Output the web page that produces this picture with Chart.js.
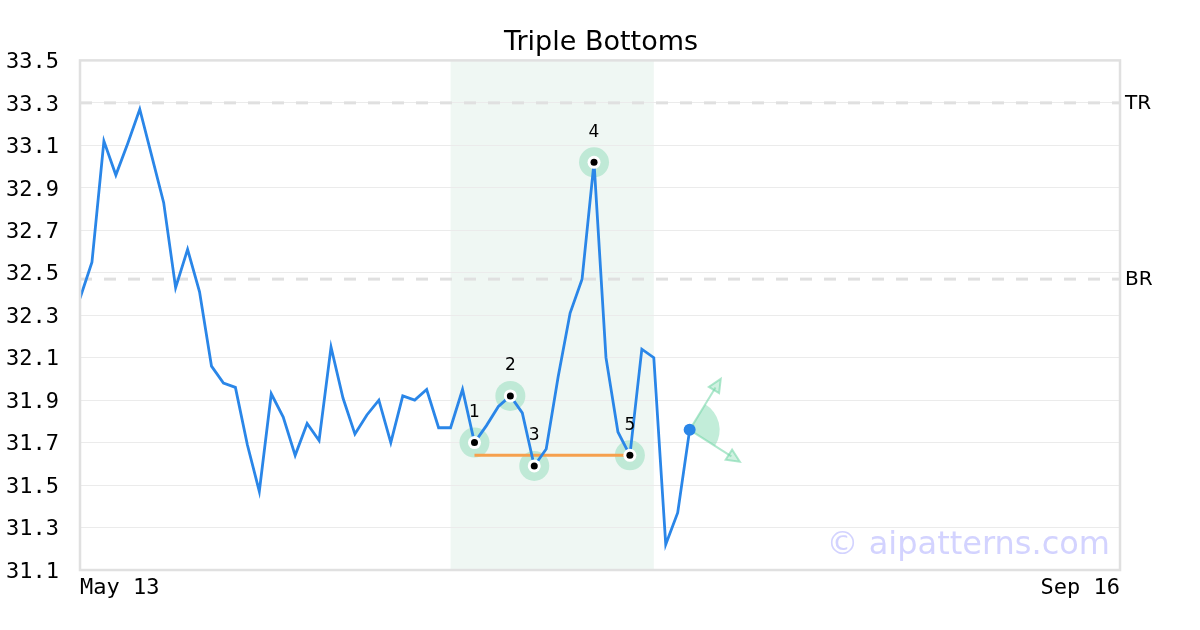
<!DOCTYPE html>
<html>
<head>
<meta charset="utf-8">
<script src="https://cdn.jsdelivr.net/npm/chart.js@4"></script>
<style>
  html, body { margin: 0; padding: 0; background: #fff; }
</style>
</head>
<body>
<canvas id="chart" width="1200" height="630"></canvas>
<script>
// closing prices, one per trading day from May 13
const prices = [
  32.38, 32.55, 33.12, 32.96, 33.11, 33.27, 33.05, 32.83, 32.43, 32.61,
  32.41, 32.06, 31.98, 31.96, 31.69, 31.47, 31.93, 31.82, 31.64, 31.79,
  31.71, 32.15, 31.91, 31.74, 31.83, 31.90, 31.70, 31.92, 31.90, 31.95,
  31.77, 31.77, 31.95, 31.70, 31.78, 31.87, 31.92, 31.84, 31.59, 31.67,
  32.01, 32.31, 32.47, 33.02, 32.10, 31.75, 31.64, 32.14, 32.10, 31.22,
  31.37, 31.76
];
const xTickIdx = [0, 87];
const xTickLabels = ['May 13', 'Sep 16'];
const yTicks = [31.1, 31.3, 31.5, 31.7, 31.9, 32.1, 32.3, 32.5, 32.7, 32.9, 33.1, 33.3, 33.5];

// pattern
const pivotIdx = [33, 36, 38, 43, 46];
const pivotNames = ['1', '2', '3', '4', '5'];
const supportIdx = [33, 46];
const supportLevel = 31.64;
const zoneIdx = [31, 48];
const levelValues = [33.3, 32.47];
const levelNames = ['TR', 'BR'];
// projection arrows from the last close: [x, y] in data units
const arrowTips = [[53.6, 32.0], [55.2, 31.61]];

const blue = '#2a86e8';
const green = 'rgba(120, 215, 170, 0.45)';

const series = prices.map((p, i) => ({ x: i, y: p }));
const pivots = pivotIdx.map(i => ({ x: i, y: prices[i] }));
const lastIdx = prices.length - 1;

const patternPlugin = {
  id: 'pattern',
  beforeDraw(chart) {
    const { ctx, chartArea: a, scales: { x } } = chart;
    ctx.save();
    ctx.fillStyle = '#eff7f3';
    const x0 = x.getPixelForValue(zoneIdx[0]);
    const x1 = x.getPixelForValue(zoneIdx[1]);
    ctx.fillRect(x0, a.top, x1 - x0, a.bottom - a.top);
    ctx.restore();
  },
  beforeDatasetsDraw(chart) {
    const { ctx, chartArea: a, scales: { x, y } } = chart;
    ctx.save();
    // TR / BR dashed levels
    ctx.strokeStyle = '#e0e0e0';
    ctx.lineWidth = 3;
    ctx.setLineDash([12, 12]);
    ctx.font = '20px "DejaVu Sans"';
    ctx.fillStyle = '#000';
    ctx.textBaseline = 'middle';
    levelValues.forEach((v, i) => {
      const py = y.getPixelForValue(v);
      ctx.beginPath();
      ctx.moveTo(a.left, py);
      ctx.lineTo(a.right, py);
      ctx.stroke();
      ctx.fillText(levelNames[i], a.right + 5, py + 1);
    });
    ctx.setLineDash([]);

    // projection arrows + wedge
    const ox = x.getPixelForValue(lastIdx);
    const oy = y.getPixelForValue(prices[lastIdx]);
    const angs = arrowTips.map(t => Math.atan2(y.getPixelForValue(t[1]) - oy, x.getPixelForValue(t[0]) - ox));
    ctx.fillStyle = green;
    ctx.beginPath();
    ctx.moveTo(ox, oy);
    ctx.arc(ox, oy, 30, angs[0], angs[1]);
    ctx.closePath();
    ctx.fill();
    ctx.strokeStyle = 'rgba(120, 215, 170, 0.6)';
    ctx.lineWidth = 2;
    arrowTips.forEach((t, i) => {
      const tx = x.getPixelForValue(t[0]);
      const ty = y.getPixelForValue(t[1]);
      const ang = angs[i];
      ctx.beginPath();
      ctx.moveTo(ox, oy);
      ctx.lineTo(tx - Math.cos(ang) * 10, ty - Math.sin(ang) * 10);
      ctx.stroke();
      ctx.beginPath();
      ctx.moveTo(tx, ty);
      ctx.lineTo(tx - Math.cos(ang) * 13 + Math.sin(ang) * 6, ty - Math.sin(ang) * 13 - Math.cos(ang) * 6);
      ctx.lineTo(tx - Math.cos(ang) * 13 - Math.sin(ang) * 6, ty - Math.sin(ang) * 13 + Math.cos(ang) * 6);
      ctx.closePath();
      ctx.fillStyle = 'rgba(120, 215, 170, 0.35)';
      ctx.fill();
      ctx.stroke();
    });
    ctx.restore();
  },
  afterDraw(chart) {
    const { ctx, chartArea: a, scales: { x, y } } = chart;
    ctx.save();
    // pivot numbers
    ctx.font = '17px "DejaVu Sans"';
    ctx.fillStyle = '#000';
    ctx.textAlign = 'center';
    ctx.textBaseline = 'middle';
    pivots.forEach((p, i) => {
      ctx.fillText(pivotNames[i], x.getPixelForValue(p.x), y.getPixelForValue(p.y) - 30);
    });
    // plot frame
    ctx.strokeStyle = '#e0e0e0';
    ctx.lineWidth = 2.5;
    ctx.strokeRect(a.left, a.top, a.right - a.left, a.bottom - a.top);
    // watermark
    ctx.font = '32px "DejaVu Sans"';
    ctx.fillStyle = '#d3d3ff';
    ctx.textAlign = 'right';
    ctx.textBaseline = 'alphabetic';
    ctx.fillText('\u00a9 aipatterns.com', a.right - 10, a.bottom - 16);
    ctx.restore();
  }
};

new Chart(document.getElementById('chart'), {
  type: 'line',
  data: {
    datasets: [
      { label: 'halo', data: pivots, showLine: false, pointRadius: 15, pointHoverRadius: 15,
        pointBackgroundColor: '#bfe9d6', pointBorderWidth: 0, order: 5 },
      { label: 'support', data: supportIdx.map(i => ({ x: i, y: supportLevel })),
        borderColor: '#f6a04d', borderWidth: 3, pointRadius: 0, order: 4 },
      { label: 'price', data: series, borderColor: blue, borderWidth: 2.8, tension: 0,
        pointRadius: ctx => ctx.dataIndex === lastIdx ? 6 : 0,
        pointBackgroundColor: blue, pointBorderWidth: 0, order: 3 },
      { label: 'ring', data: pivots, showLine: false, pointRadius: 6.5,
        pointBackgroundColor: '#fff', pointBorderWidth: 0, order: 2 },
      { label: 'dot', data: pivots, showLine: false, pointRadius: 3.5,
        pointBackgroundColor: '#000', pointBorderWidth: 0, order: 1 }
    ]
  },
  options: {
    responsive: false,
    animation: false,
    devicePixelRatio: 1,
    layout: { padding: { left: 6, right: 4, top: 0, bottom: 0 } },
    plugins: {
      legend: { display: false },
      tooltip: { enabled: false },
      title: {
        display: true,
        text: 'Triple Bottoms',
        color: '#000',
        font: { family: 'DejaVu Sans', size: 27, weight: 'normal' },
        padding: { top: 27, bottom: 1 }
      }
    },
    scales: {
      x: {
        type: 'linear',
        min: 0,
        max: 87,
        grid: { display: false },
        border: { display: false },
        afterBuildTicks: axis => { axis.ticks = xTickIdx.map(v => ({ value: v })); },
        afterFit: axis => { axis.height = 60; },
        ticks: {
          align: 'inner',
          autoSkip: false,
          maxRotation: 0,
          padding: -3,
          color: '#000',
          font: { family: 'DejaVu Sans Mono', size: 22 },
          callback: v => xTickLabels[xTickIdx.indexOf(v)] ?? ''
        }
      },
      y: {
        min: 31.1,
        max: 33.5,
        grid: { color: '#ebebeb', lineWidth: 1, drawTicks: false },
        border: { display: false },
        afterBuildTicks: axis => { axis.ticks = yTicks.map(v => ({ value: v })); },
        afterFit: axis => { axis.width = 74; },
        ticks: {
          crossAlign: 'far',
          padding: 0,
          labelOffset: 2,
          color: '#000',
          font: { family: 'DejaVu Sans Mono', size: 22 },
          callback: v => v.toFixed(1)
        }
      },
      // empty right-hand axis keeps the plot symmetric and leaves room for TR/BR
      yRight: {
        position: 'right',
        grid: { display: false },
        border: { display: false },
        ticks: { display: false },
        afterFit: axis => { axis.width = 76; }
      }
    }
  },
  plugins: [patternPlugin]
});
</script>
</body>
</html>
